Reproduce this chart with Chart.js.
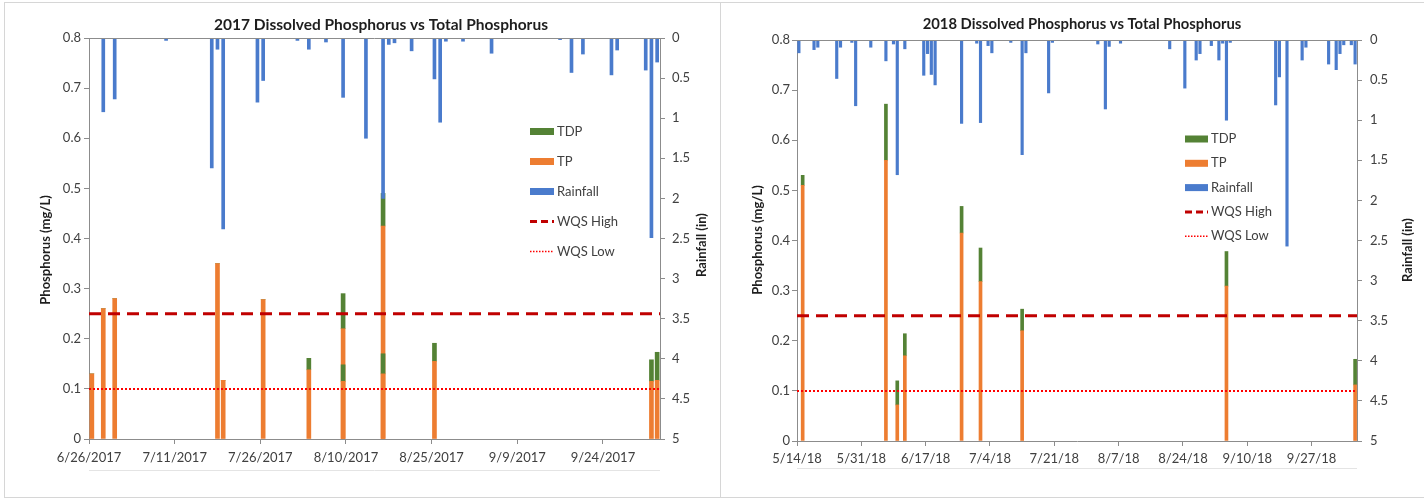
<!DOCTYPE html>
<html>
<head>
<meta charset="utf-8">
<script src="https://cdn.jsdelivr.net/npm/chart.js@4.4.1/dist/chart.umd.min.js"></script>
<style>
  body { margin: 0; background: #fff; width: 1424px; height: 498px; position: relative; overflow: hidden; }
  .panel { position: absolute; border: 1px solid #d6d6d6; box-sizing: border-box; }
  canvas { position: absolute; top: 0; }
</style>
</head>
<body>
<div class="panel" style="left:4px;top:2px;width:717px;height:496px"></div>
<div class="panel" style="left:720px;top:2px;width:710px;height:496px"></div>
<canvas id="c2017" width="720" height="498" style="left:0"></canvas>
<canvas id="c2018" width="704" height="498" style="left:720px"></canvas>
<script>
// ---- 2017 ----
const range17 = ['6/26/2017', '10/4/2017'];
const xTicks17 = ['6/26/2017', '7/11/2017', '7/26/2017', '8/10/2017', '8/25/2017', '9/9/2017', '9/24/2017'];
const rainDates17 = ['6/28/2017', '6/30/2017', '7/9/2017', '7/17/2017', '7/18/2017', '7/19/2017', '7/25/2017', '7/26/2017',
  '8/1/2017', '8/3/2017', '8/6/2017', '8/9/2017', '8/13/2017', '8/16/2017', '8/17/2017', '8/18/2017', '8/21/2017',
  '8/25/2017', '8/26/2017', '8/27/2017', '8/30/2017', '9/4/2017', '9/16/2017', '9/18/2017', '9/20/2017',
  '9/25/2017', '9/26/2017', '10/1/2017', '10/2/2017', '10/3/2017'];
const rain17 = [0.92, 0.76, 0.03, 1.62, 0.14, 2.38, 0.80, 0.53,
  0.03, 0.14, 0.05, 0.74, 1.25, 2.0, 0.08, 0.06, 0.16,
  0.51, 1.05, 0.04, 0.04, 0.19, 0.02, 0.43, 0.20,
  0.46, 0.15, 0.40, 2.49, 0.30];
const sampleDates17 = ['6/26/2017', '6/28/2017', '6/30/2017', '7/18/2017', '7/19/2017', '7/26/2017',
  '8/3/2017', '8/9/2017', '8/16/2017', '8/25/2017', '10/2/2017', '10/3/2017'];
const tp17 = [0.13, 0.26, 0.28, 0.35, 0.117, 0.278, 0.138, 0.22, 0.425, 0.155, 0.115, 0.117];
const tdp17 = [0, 0, 0, 0, 0, 0, 0.023, 0.07, 0.065, 0.036, 0.043, 0.056];
// second sample taken the same day (drawn in front)
const repeatDates17 = ['8/9/2017', '8/16/2017'];
const repeatTp17 = [0.115, 0.13];
const repeatTdp17 = [0.033, 0.04];

// ---- 2018 ----
const range18 = ['5/14/18', '10/9/18'];
const xTicks18 = ['5/14/18', '5/31/18', '6/17/18', '7/4/18', '7/21/18', '8/7/18', '8/24/18', '9/10/18', '9/27/18'];
const rainDates18 = ['5/14/18', '5/18/18', '5/19/18', '5/24/18', '5/25/18', '5/28/18', '5/29/18', '6/2/18', '6/6/18',
  '6/8/18', '6/9/18', '6/11/18', '6/16/18', '6/17/18', '6/18/18', '6/19/18', '6/26/18', '6/30/18', '7/1/18',
  '7/3/18', '7/4/18', '7/9/18', '7/12/18', '7/13/18', '7/19/18', '7/20/18', '8/1/18', '8/3/18', '8/4/18',
  '8/7/18', '8/20/18', '8/24/18', '8/27/18', '8/28/18', '8/31/18', '9/2/18', '9/3/18', '9/4/18', '9/5/18',
  '9/17/18', '9/18/18', '9/20/18', '9/24/18', '9/25/18', '10/1/18', '10/3/18', '10/4/18', '10/5/18',
  '10/7/18', '10/8/18'];
const rain18 = [0.16, 0.12, 0.09, 0.48, 0.09, 0.03, 0.82, 0.09, 0.26,
  0.05, 1.68, 0.11, 0.44, 0.17, 0.43, 0.56, 1.04, 0.04, 1.03,
  0.07, 0.16, 0.03, 1.43, 0.16, 0.66, 0.03, 0.05, 0.86, 0.08,
  0.04, 0.11, 0.60, 0.25, 0.17, 0.07, 0.25, 0.04, 1.0, 0.03,
  0.81, 0.46, 2.57, 0.25, 0.09, 0.30, 0.37, 0.17, 0.06,
  0.06, 0.30];
const sampleDates18 = ['5/15/18', '6/6/18', '6/9/18', '6/11/18', '6/26/18', '7/1/18', '7/12/18', '9/4/18', '10/8/18'];
const tp18 = [0.51, 0.56, 0.072, 0.17, 0.415, 0.318, 0.22, 0.309, 0.112];
const tdp18 = [0.02, 0.112, 0.048, 0.044, 0.053, 0.067, 0.043, 0.069, 0.051];

// ---- shared ----
const phosTicks = ['0', '0.1', '0.2', '0.3', '0.4', '0.5', '0.6', '0.7', '0.8'];
const rainTicks = ['0', '0.5', '1', '1.5', '2', '2.5', '3', '3.5', '4', '4.5', '5'];
const wqsHigh = 0.25;
const wqsLow = 0.1;

const GREEN = '#548235', ORANGE = '#ED7D31', BLUE = '#4A7BCC';
const AXIS = '#8c8c8c', TEXT = '#404040';
Chart.defaults.font.family = 'Lato';
Chart.defaults.color = TEXT;

function dayNum(s) {
  const [m, d, y] = s.split('/').map(Number);
  return Date.UTC(y < 100 ? 2000 + y : y, m - 1, d) / 864e5;
}

const overlay = {
  id: 'overlay',
  afterDraw(chart, args, o) {
    const { ctx, chartArea: a } = chart;
    ctx.save();
    // top edge of the plot
    ctx.strokeStyle = AXIS;
    ctx.lineWidth = 1;
    ctx.beginPath();
    ctx.moveTo(a.left, a.top + 0.5);
    ctx.lineTo(a.right, a.top + 0.5);
    ctx.stroke();
    // faint line under the dates
    ctx.strokeStyle = '#e4e4e4';
    ctx.beginPath();
    ctx.moveTo(a.left, o.faintY + 0.5);
    ctx.lineTo(a.right, o.faintY + 0.5);
    ctx.stroke();

    ctx.fillStyle = '#1e1e1e';
    ctx.textAlign = 'center';
    ctx.textBaseline = 'middle';
    ctx.font = 'bold ' + o.titleSize + 'px Lato';
    ctx.fillText(o.title, o.titleX, o.titleY);

    ctx.font = 'bold 13px Lato';
    [[o.leftTitle, 'Phosphorus (mg/L)'], [o.rightTitle, 'Rainfall (in)']].forEach(([p, t]) => {
      ctx.save();
      ctx.translate(p[0], p[1]);
      ctx.rotate(-Math.PI / 2);
      ctx.fillText(t, 0, 0);
      ctx.restore();
    });

    // legend
    const items = [
      { label: 'TDP', color: GREEN },
      { label: 'TP', color: ORANGE },
      { label: 'Rainfall', color: BLUE },
      { label: 'WQS High', color: '#C00000', dash: [7, 4], width: 3 },
      { label: 'WQS Low', color: '#FF0000', dash: [1.5, 1.5], width: 1.5 }
    ];
    ctx.font = '13px Lato';
    ctx.textAlign = 'left';
    items.forEach((it, i) => {
      const y = o.legY + i * o.legStep;
      if (it.dash) {
        ctx.strokeStyle = it.color;
        ctx.lineWidth = it.width;
        ctx.setLineDash(it.dash);
        ctx.beginPath();
        ctx.moveTo(o.legX, y);
        ctx.lineTo(o.legX + o.legW, y);
        ctx.stroke();
        ctx.setLineDash([]);
      } else {
        ctx.fillStyle = it.color;
        ctx.fillRect(o.legX, y - 3.5, o.legW, 7);
      }
      ctx.fillStyle = TEXT;
      ctx.fillText(it.label, o.legX + o.legW + 3, y);
    });
    ctx.restore();
  }
};

function buildChart(id, s) {
  const start = dayNum(s.range[0]);
  const span = dayNum(s.range[1]) - start;
  const pts = (dates, vals) => dates.map((d, i) => ({ x: dayNum(d) - start + 0.5, y: vals[i] }));
  const flat = v => [{ x: 0, y: v }, { x: span, y: v }];
  const bar = (label, dates, vals, color, stack, order, w) => ({
    label, data: pts(dates, vals), backgroundColor: color, stack, order,
    grouped: false, barThickness: w, borderWidth: 0
  });
  const datasets = [
    { type: 'line', label: 'WQS High', data: flat(wqsHigh), stack: 'hi', order: 0,
      borderColor: '#C00000', borderWidth: 3, borderDash: [12, 7], pointRadius: 0 },
    { type: 'line', label: 'WQS Low', data: flat(wqsLow), stack: 'lo', order: 0,
      borderColor: '#FF0000', borderWidth: 2, borderDash: [2, 2], pointRadius: 0 },
    Object.assign(bar('Rainfall', s.rainDates, s.rain, BLUE, 'rain', 1, s.rainW), { yAxisID: 'y2' })
  ];
  if (s.repDates) {
    datasets.push(bar('TP', s.repDates, s.repTp, ORANGE, 'rep', 2, s.pW));
    datasets.push(bar('TDP', s.repDates, s.repTdp, GREEN, 'rep', 2, s.pW));
  }
  datasets.push(bar('TP', s.dates, s.tp, ORANGE, 'main', 3, s.pW));
  datasets.push(bar('TDP', s.dates, s.tdp, GREEN, 'main', 3, s.pW));

  const tickFont = { size: 13 };
  const grid = { drawOnChartArea: false, tickLength: 5, color: AXIS, offset: false };
  const border = { color: AXIS, width: 1 };
  new Chart(document.getElementById(id), {
    type: 'bar',
    data: { datasets },
    plugins: [overlay],
    options: {
      responsive: false,
      animation: false,
      layout: { padding: s.pad },
      plugins: { legend: { display: false }, tooltip: { enabled: false }, overlay: s.overlay },
      scales: {
        x: {
          type: 'linear', min: 0, max: span, offset: false,
          afterBuildTicks: sc => { sc.ticks = s.xTicks.map(t => ({ value: dayNum(t) - start })); },
          ticks: { callback: (v, i) => s.xTicks[i], autoSkip: false, maxRotation: 0, padding: s.xPad, font: tickFont },
          grid, border,
          afterFit: sc => { sc.height = 40; }
        },
        y: {
          position: 'left', stacked: true, min: 0, max: 0.8,
          afterBuildTicks: sc => { sc.ticks = phosTicks.map(t => ({ value: parseFloat(t) })); },
          ticks: { callback: (v, i) => phosTicks[i], padding: s.yPad, font: tickFont },
          grid, border,
          afterFit: sc => { sc.width = 40; }
        },
        y2: {
          position: 'right', reverse: true, min: 0, max: 5,
          afterBuildTicks: sc => { sc.ticks = rainTicks.map(t => ({ value: parseFloat(t) })); },
          ticks: { callback: (v, i) => rainTicks[i], padding: s.y2Pad, font: tickFont },
          grid, border,
          afterFit: sc => { sc.width = 40; }
        }
      }
    }
  });
}

buildChart('c2017', {
  range: range17, xTicks: xTicks17,
  rainDates: rainDates17, rain: rain17,
  dates: sampleDates17, tp: tp17, tdp: tdp17,
  repDates: repeatDates17, repTp: repeatTp17, repTdp: repeatTdp17,
  pW: 4, rainW: 3,
  pad: { top: 38, left: 49, right: 20, bottom: 19 },
  xPad: 6, yPad: 3, y2Pad: 7,
  overlay: {
    title: '2017 Dissolved Phosphorus vs Total Phosphorus', titleSize: 15.5, titleX: 381, titleY: 25,
    leftTitle: [46, 250], rightTitle: [702, 245], faintY: 470,
    legX: 530, legY: 131.5, legStep: 30, legW: 24
  }
});

buildChart('c2018', {
  range: range18, xTicks: xTicks18,
  rainDates: rainDates18, rain: rain18,
  dates: sampleDates18, tp: tp18, tdp: tdp18,
  pW: 3, rainW: 2.5,
  pad: { top: 40, left: 37, right: 27, bottom: 17 },
  xPad: 5, yPad: 2, y2Pad: 8,
  overlay: {
    title: '2018 Dissolved Phosphorus vs Total Phosphorus', titleSize: 14.8, titleX: 362, titleY: 24.5,
    leftTitle: [38, 240], rightTitle: [688, 250], faintY: 468,
    legX: 465, legY: 139, legStep: 24.3, legW: 23
  }
});
</script>
</body>
</html>
